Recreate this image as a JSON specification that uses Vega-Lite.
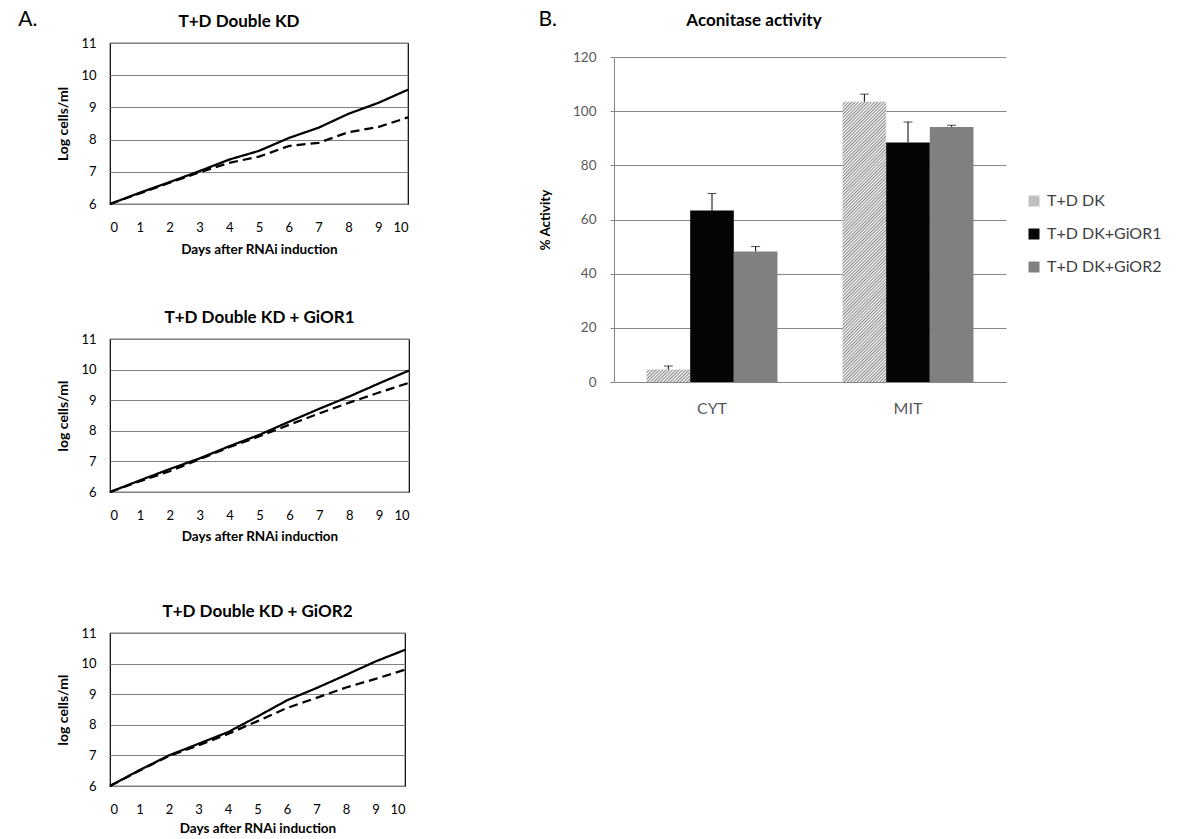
{
  "$schema": "https://vega.github.io/schema/vega-lite/v6.json",
  "background": "white",
  "padding": {"left": 18, "top": 9, "right": 5, "bottom": 5},
  "config": {
    "font": "Lato",
    "view": {"stroke": null},
    "title": {"font": "Lato", "fontSize": 17, "fontWeight": "bold", "color": "#000000", "offset": 6},
    "axis": {"labelFont": "Lato", "titleFont": "Lato"}
  },
  "datasets": {
    "kd": [
      {"day": 0, "series": "uninduced", "log_cells": 6.0}, {"day": 1, "series": "uninduced", "log_cells": 6.35},
      {"day": 2, "series": "uninduced", "log_cells": 6.68}, {"day": 3, "series": "uninduced", "log_cells": 7.02},
      {"day": 4, "series": "uninduced", "log_cells": 7.38}, {"day": 5, "series": "uninduced", "log_cells": 7.65},
      {"day": 6, "series": "uninduced", "log_cells": 8.05}, {"day": 7, "series": "uninduced", "log_cells": 8.37},
      {"day": 8, "series": "uninduced", "log_cells": 8.8}, {"day": 9, "series": "uninduced", "log_cells": 9.14},
      {"day": 10, "series": "uninduced", "log_cells": 9.55},
      {"day": 0, "series": "induced", "log_cells": 6.0}, {"day": 1, "series": "induced", "log_cells": 6.33},
      {"day": 2, "series": "induced", "log_cells": 6.66}, {"day": 3, "series": "induced", "log_cells": 6.98},
      {"day": 4, "series": "induced", "log_cells": 7.28}, {"day": 5, "series": "induced", "log_cells": 7.47},
      {"day": 6, "series": "induced", "log_cells": 7.8}, {"day": 7, "series": "induced", "log_cells": 7.9},
      {"day": 8, "series": "induced", "log_cells": 8.23}, {"day": 9, "series": "induced", "log_cells": 8.39},
      {"day": 10, "series": "induced", "log_cells": 8.69}
    ],
    "gior1": [
      {"day": 0, "series": "uninduced", "log_cells": 6.0}, {"day": 1, "series": "uninduced", "log_cells": 6.38},
      {"day": 2, "series": "uninduced", "log_cells": 6.75}, {"day": 3, "series": "uninduced", "log_cells": 7.1},
      {"day": 4, "series": "uninduced", "log_cells": 7.5}, {"day": 5, "series": "uninduced", "log_cells": 7.87},
      {"day": 6, "series": "uninduced", "log_cells": 8.3}, {"day": 7, "series": "uninduced", "log_cells": 8.72},
      {"day": 8, "series": "uninduced", "log_cells": 9.12}, {"day": 9, "series": "uninduced", "log_cells": 9.55},
      {"day": 10, "series": "uninduced", "log_cells": 9.97},
      {"day": 0, "series": "induced", "log_cells": 6.0}, {"day": 1, "series": "induced", "log_cells": 6.35},
      {"day": 2, "series": "induced", "log_cells": 6.68}, {"day": 3, "series": "induced", "log_cells": 7.07},
      {"day": 4, "series": "induced", "log_cells": 7.47}, {"day": 5, "series": "induced", "log_cells": 7.82},
      {"day": 6, "series": "induced", "log_cells": 8.2}, {"day": 7, "series": "induced", "log_cells": 8.57},
      {"day": 8, "series": "induced", "log_cells": 8.92}, {"day": 9, "series": "induced", "log_cells": 9.25},
      {"day": 10, "series": "induced", "log_cells": 9.57}
    ],
    "gior2": [
      {"day": 0, "series": "uninduced", "log_cells": 6.0}, {"day": 1, "series": "uninduced", "log_cells": 6.52},
      {"day": 2, "series": "uninduced", "log_cells": 7.0}, {"day": 3, "series": "uninduced", "log_cells": 7.38},
      {"day": 4, "series": "uninduced", "log_cells": 7.76}, {"day": 5, "series": "uninduced", "log_cells": 8.27},
      {"day": 6, "series": "uninduced", "log_cells": 8.8}, {"day": 7, "series": "uninduced", "log_cells": 9.2},
      {"day": 8, "series": "uninduced", "log_cells": 9.63}, {"day": 9, "series": "uninduced", "log_cells": 10.07},
      {"day": 10, "series": "uninduced", "log_cells": 10.45},
      {"day": 0, "series": "induced", "log_cells": 6.0}, {"day": 1, "series": "induced", "log_cells": 6.5},
      {"day": 2, "series": "induced", "log_cells": 6.98}, {"day": 3, "series": "induced", "log_cells": 7.33},
      {"day": 4, "series": "induced", "log_cells": 7.7}, {"day": 5, "series": "induced", "log_cells": 8.12},
      {"day": 6, "series": "induced", "log_cells": 8.55}, {"day": 7, "series": "induced", "log_cells": 8.88},
      {"day": 8, "series": "induced", "log_cells": 9.22}, {"day": 9, "series": "induced", "log_cells": 9.5},
      {"day": 10, "series": "induced", "log_cells": 9.8}
    ],
    "aco": [
      {"fraction": "CYT", "strain": "T+D DK", "activity": 4.6, "upper": 5.9},
      {"fraction": "CYT", "strain": "T+D DK+GiOR1", "activity": 63.3, "upper": 69.6},
      {"fraction": "CYT", "strain": "T+D DK+GiOR2", "activity": 48.2, "upper": 50.0},
      {"fraction": "MIT", "strain": "T+D DK", "activity": 103.5, "upper": 106.3},
      {"fraction": "MIT", "strain": "T+D DK+GiOR1", "activity": 88.4, "upper": 96.0},
      {"fraction": "MIT", "strain": "T+D DK+GiOR2", "activity": 94.2, "upper": 94.8}
    ]
  },
  "resolve": {"scale": {"fill": "independent"}, "legend": {"fill": "independent"}},
  "columns": 2,
  "align": "none",
  "spacing": 123,
  "concat": [
    {
      "title": {"text": "A.", "anchor": "start", "frame": "bounds", "fontSize": 21, "fontWeight": "normal", "dx": -38, "offset": -18},
      "spacing": 58,
      "vconcat": [
        {
          "spacing": 51,
          "vconcat": [
            {
              "width": 298, "height": 161,
              "view": {"stroke": "#000000", "strokeWidth": 1.2},
              "title": {"text": "T+D Double KD", "dx": -20},
              "data": {"name": "kd"},
              "mark": {"type": "line", "color": "#000000"},
              "encoding": {
                "x": {"field": "day", "type": "quantitative", "scale": {"domain": [0, 10], "nice": false},
                  "axis": {"title": "Days after RNAi induction", "values": [0,1,2,3,4,5,6,7,8,9,10], "grid": false, "ticks": false, "domain": false, "labelPadding": 17, "labelFontSize": 13, "labelColor": "#000000", "titleFontSize": 13.5, "titleFontWeight": "bold", "titlePadding": 8, "titleColor": "#000000"}},
                "y": {"field": "log_cells", "type": "quantitative", "scale": {"domain": [6, 11], "nice": false, "zero": false},
                  "axis": {"title": "Log cells/ml", "values": [6,7,8,9,10,11], "grid": true, "gridColor": "#808080", "gridWidth": 1, "ticks": false, "domain": false, "labelPadding": 14, "labelFontSize": 13, "labelColor": "#000000", "titleFontSize": 14, "titleFontWeight": "bold", "titlePadding": 10, "titleColor": "#000000"}},
                "strokeDash": {"field": "series", "type": "nominal", "scale": {"domain": ["uninduced", "induced"], "range": [[1, 0], [9, 5]]}, "legend": null},
                "strokeWidth": {"field": "series", "type": "nominal", "scale": {"domain": ["uninduced", "induced"], "range": [2.25, 2.25]}, "legend": null}
              }
            },
            {
              "width": 299, "height": 153,
              "view": {"stroke": "#000000", "strokeWidth": 1.2},
              "title": {"text": "T+D Double KD + GiOR1"},
              "data": {"name": "gior1"},
              "mark": {"type": "line", "color": "#000000"},
              "encoding": {
                "x": {"field": "day", "type": "quantitative", "scale": {"domain": [0, 10], "nice": false},
                  "axis": {"title": "Days after RNAi induction", "values": [0,1,2,3,4,5,6,7,8,9,10], "grid": false, "ticks": false, "domain": false, "labelPadding": 17, "labelFontSize": 13, "labelColor": "#000000", "titleFontSize": 13.5, "titleFontWeight": "bold", "titlePadding": 7, "titleColor": "#000000"}},
                "y": {"field": "log_cells", "type": "quantitative", "scale": {"domain": [6, 11], "nice": false, "zero": false},
                  "axis": {"title": "log cells/ml", "values": [6,7,8,9,10,11], "grid": true, "gridColor": "#808080", "gridWidth": 1, "ticks": false, "domain": false, "labelPadding": 14, "labelFontSize": 13, "labelColor": "#000000", "titleFontSize": 14, "titleFontWeight": "bold", "titlePadding": 10, "titleColor": "#000000"}},
                "strokeDash": {"field": "series", "type": "nominal", "scale": {"domain": ["uninduced", "induced"], "range": [[1, 0], [9, 5]]}, "legend": null},
                "strokeWidth": {"field": "series", "type": "nominal", "scale": {"domain": ["uninduced", "induced"], "range": [1.1, 2.25]}, "legend": null}
              }
            }
          ]
        },
        {
          "width": 295, "height": 153,
          "view": {"stroke": "#000000", "strokeWidth": 1.2},
          "title": {"text": "T+D Double KD + GiOR2"},
          "data": {"name": "gior2"},
          "mark": {"type": "line", "color": "#000000"},
          "encoding": {
            "x": {"field": "day", "type": "quantitative", "scale": {"domain": [0, 10], "nice": false},
              "axis": {"title": "Days after RNAi induction", "values": [0,1,2,3,4,5,6,7,8,9,10], "grid": false, "ticks": false, "domain": false, "labelPadding": 17, "labelFontSize": 13, "labelColor": "#000000", "titleFontSize": 13.5, "titleFontWeight": "bold", "titlePadding": 5, "titleColor": "#000000"}},
            "y": {"field": "log_cells", "type": "quantitative", "scale": {"domain": [6, 11], "nice": false, "zero": false},
              "axis": {"title": "log cells/ml", "values": [6,7,8,9,10,11], "grid": true, "gridColor": "#808080", "gridWidth": 1, "ticks": false, "domain": false, "labelPadding": 14, "labelFontSize": 13, "labelColor": "#000000", "titleFontSize": 14, "titleFontWeight": "bold", "titlePadding": 10, "titleColor": "#000000"}},
            "strokeDash": {"field": "series", "type": "nominal", "scale": {"domain": ["uninduced", "induced"], "range": [[1, 0], [9, 5]]}, "legend": null},
            "strokeWidth": {"field": "series", "type": "nominal", "scale": {"domain": ["uninduced", "induced"], "range": [2.25, 2.25]}, "legend": null}
          }
        }
      ]
    },
    {
      "title": {"text": "B.", "anchor": "start", "frame": "bounds", "fontSize": 21, "fontWeight": "normal", "offset": -18},
      "resolve": {"scale": {"fill": "independent"}, "legend": {"fill": "independent"}},
      "vconcat": [
        {
          "width": 392, "height": 339,
          "title": {"text": "Aconitase activity", "dx": -56, "fontSize": 17, "offset": 13},
          "data": {"name": "aco"},
          "encoding": {
            "x": {"field": "fraction", "type": "nominal", "scale": {"paddingInner": 0.332, "paddingOuter": 0.166},
              "axis": {"title": null, "labelAngle": 0, "ticks": false, "domainColor": "#868686", "labelFontSize": 16, "labelColor": "#595959", "labelPadding": 18}},
            "xOffset": {"field": "strain", "type": "nominal", "scale": {"domain": ["T+D DK", "T+D DK+GiOR1", "T+D DK+GiOR2"], "paddingInner": 0, "paddingOuter": 0}}
          },
          "layer": [
            {
              "mark": {"type": "bar"},
              "encoding": {
                "y": {"field": "activity", "type": "quantitative", "scale": {"domain": [0, 120], "nice": false, "range": [339, 14]},
                  "axis": {"title": "% Activity", "values": [0,20,40,60,80,100,120], "grid": true, "gridColor": "#868686", "domainColor": "#868686", "tickColor": "#868686", "tickSize": 4, "labelPadding": 14, "labelFontSize": 13.5, "labelColor": "#595959", "titleFontSize": 13.5, "titleFontWeight": "bold", "titleColor": "#000000", "titlePadding": 20}},
                "fill": {
                  "condition": [
                    {"test": "datum.strain === 'T+D DK' && datum.fraction === 'MIT'",
                     "value": {"gradient": "linear", "x1": 0, "y1": 0, "x2": 0.1755, "y2": 1.1283, "stops": [
{"offset":0,"color":"#8c8c8c"},{"offset":0.005,"color":"#ffffff"},{"offset":0.01,"color":"#8c8c8c"},{"offset":0.015,"color":"#ffffff"},{"offset":0.02,"color":"#8c8c8c"},{"offset":0.025,"color":"#ffffff"},{"offset":0.03,"color":"#8c8c8c"},{"offset":0.035,"color":"#ffffff"},{"offset":0.04,"color":"#8c8c8c"},{"offset":0.045,"color":"#ffffff"},
{"offset":0.05,"color":"#8c8c8c"},{"offset":0.055,"color":"#ffffff"},{"offset":0.06,"color":"#8c8c8c"},{"offset":0.065,"color":"#ffffff"},{"offset":0.07,"color":"#8c8c8c"},{"offset":0.075,"color":"#ffffff"},{"offset":0.08,"color":"#8c8c8c"},{"offset":0.085,"color":"#ffffff"},{"offset":0.09,"color":"#8c8c8c"},{"offset":0.095,"color":"#ffffff"},
{"offset":0.10,"color":"#8c8c8c"},{"offset":0.105,"color":"#ffffff"},{"offset":0.11,"color":"#8c8c8c"},{"offset":0.115,"color":"#ffffff"},{"offset":0.12,"color":"#8c8c8c"},{"offset":0.125,"color":"#ffffff"},{"offset":0.13,"color":"#8c8c8c"},{"offset":0.135,"color":"#ffffff"},{"offset":0.14,"color":"#8c8c8c"},{"offset":0.145,"color":"#ffffff"},
{"offset":0.15,"color":"#8c8c8c"},{"offset":0.155,"color":"#ffffff"},{"offset":0.16,"color":"#8c8c8c"},{"offset":0.165,"color":"#ffffff"},{"offset":0.17,"color":"#8c8c8c"},{"offset":0.175,"color":"#ffffff"},{"offset":0.18,"color":"#8c8c8c"},{"offset":0.185,"color":"#ffffff"},{"offset":0.19,"color":"#8c8c8c"},{"offset":0.195,"color":"#ffffff"},
{"offset":0.20,"color":"#8c8c8c"},{"offset":0.205,"color":"#ffffff"},{"offset":0.21,"color":"#8c8c8c"},{"offset":0.215,"color":"#ffffff"},{"offset":0.22,"color":"#8c8c8c"},{"offset":0.225,"color":"#ffffff"},{"offset":0.23,"color":"#8c8c8c"},{"offset":0.235,"color":"#ffffff"},{"offset":0.24,"color":"#8c8c8c"},{"offset":0.245,"color":"#ffffff"},
{"offset":0.25,"color":"#8c8c8c"},{"offset":0.255,"color":"#ffffff"},{"offset":0.26,"color":"#8c8c8c"},{"offset":0.265,"color":"#ffffff"},{"offset":0.27,"color":"#8c8c8c"},{"offset":0.275,"color":"#ffffff"},{"offset":0.28,"color":"#8c8c8c"},{"offset":0.285,"color":"#ffffff"},{"offset":0.29,"color":"#8c8c8c"},{"offset":0.295,"color":"#ffffff"},
{"offset":0.30,"color":"#8c8c8c"},{"offset":0.305,"color":"#ffffff"},{"offset":0.31,"color":"#8c8c8c"},{"offset":0.315,"color":"#ffffff"},{"offset":0.32,"color":"#8c8c8c"},{"offset":0.325,"color":"#ffffff"},{"offset":0.33,"color":"#8c8c8c"},{"offset":0.335,"color":"#ffffff"},{"offset":0.34,"color":"#8c8c8c"},{"offset":0.345,"color":"#ffffff"},
{"offset":0.35,"color":"#8c8c8c"},{"offset":0.355,"color":"#ffffff"},{"offset":0.36,"color":"#8c8c8c"},{"offset":0.365,"color":"#ffffff"},{"offset":0.37,"color":"#8c8c8c"},{"offset":0.375,"color":"#ffffff"},{"offset":0.38,"color":"#8c8c8c"},{"offset":0.385,"color":"#ffffff"},{"offset":0.39,"color":"#8c8c8c"},{"offset":0.395,"color":"#ffffff"},
{"offset":0.40,"color":"#8c8c8c"},{"offset":0.405,"color":"#ffffff"},{"offset":0.41,"color":"#8c8c8c"},{"offset":0.415,"color":"#ffffff"},{"offset":0.42,"color":"#8c8c8c"},{"offset":0.425,"color":"#ffffff"},{"offset":0.43,"color":"#8c8c8c"},{"offset":0.435,"color":"#ffffff"},{"offset":0.44,"color":"#8c8c8c"},{"offset":0.445,"color":"#ffffff"},
{"offset":0.45,"color":"#8c8c8c"},{"offset":0.455,"color":"#ffffff"},{"offset":0.46,"color":"#8c8c8c"},{"offset":0.465,"color":"#ffffff"},{"offset":0.47,"color":"#8c8c8c"},{"offset":0.475,"color":"#ffffff"},{"offset":0.48,"color":"#8c8c8c"},{"offset":0.485,"color":"#ffffff"},{"offset":0.49,"color":"#8c8c8c"},{"offset":0.495,"color":"#ffffff"},
{"offset":0.50,"color":"#8c8c8c"},{"offset":0.505,"color":"#ffffff"},{"offset":0.51,"color":"#8c8c8c"},{"offset":0.515,"color":"#ffffff"},{"offset":0.52,"color":"#8c8c8c"},{"offset":0.525,"color":"#ffffff"},{"offset":0.53,"color":"#8c8c8c"},{"offset":0.535,"color":"#ffffff"},{"offset":0.54,"color":"#8c8c8c"},{"offset":0.545,"color":"#ffffff"},
{"offset":0.55,"color":"#8c8c8c"},{"offset":0.555,"color":"#ffffff"},{"offset":0.56,"color":"#8c8c8c"},{"offset":0.565,"color":"#ffffff"},{"offset":0.57,"color":"#8c8c8c"},{"offset":0.575,"color":"#ffffff"},{"offset":0.58,"color":"#8c8c8c"},{"offset":0.585,"color":"#ffffff"},{"offset":0.59,"color":"#8c8c8c"},{"offset":0.595,"color":"#ffffff"},
{"offset":0.60,"color":"#8c8c8c"},{"offset":0.605,"color":"#ffffff"},{"offset":0.61,"color":"#8c8c8c"},{"offset":0.615,"color":"#ffffff"},{"offset":0.62,"color":"#8c8c8c"},{"offset":0.625,"color":"#ffffff"},{"offset":0.63,"color":"#8c8c8c"},{"offset":0.635,"color":"#ffffff"},{"offset":0.64,"color":"#8c8c8c"},{"offset":0.645,"color":"#ffffff"},
{"offset":0.65,"color":"#8c8c8c"},{"offset":0.655,"color":"#ffffff"},{"offset":0.66,"color":"#8c8c8c"},{"offset":0.665,"color":"#ffffff"},{"offset":0.67,"color":"#8c8c8c"},{"offset":0.675,"color":"#ffffff"},{"offset":0.68,"color":"#8c8c8c"},{"offset":0.685,"color":"#ffffff"},{"offset":0.69,"color":"#8c8c8c"},{"offset":0.695,"color":"#ffffff"},
{"offset":0.70,"color":"#8c8c8c"},{"offset":0.705,"color":"#ffffff"},{"offset":0.71,"color":"#8c8c8c"},{"offset":0.715,"color":"#ffffff"},{"offset":0.72,"color":"#8c8c8c"},{"offset":0.725,"color":"#ffffff"},{"offset":0.73,"color":"#8c8c8c"},{"offset":0.735,"color":"#ffffff"},{"offset":0.74,"color":"#8c8c8c"},{"offset":0.745,"color":"#ffffff"},
{"offset":0.75,"color":"#8c8c8c"},{"offset":0.755,"color":"#ffffff"},{"offset":0.76,"color":"#8c8c8c"},{"offset":0.765,"color":"#ffffff"},{"offset":0.77,"color":"#8c8c8c"},{"offset":0.775,"color":"#ffffff"},{"offset":0.78,"color":"#8c8c8c"},{"offset":0.785,"color":"#ffffff"},{"offset":0.79,"color":"#8c8c8c"},{"offset":0.795,"color":"#ffffff"},
{"offset":0.80,"color":"#8c8c8c"},{"offset":0.805,"color":"#ffffff"},{"offset":0.81,"color":"#8c8c8c"},{"offset":0.815,"color":"#ffffff"},{"offset":0.82,"color":"#8c8c8c"},{"offset":0.825,"color":"#ffffff"},{"offset":0.83,"color":"#8c8c8c"},{"offset":0.835,"color":"#ffffff"},{"offset":0.84,"color":"#8c8c8c"},{"offset":0.845,"color":"#ffffff"},
{"offset":0.85,"color":"#8c8c8c"},{"offset":0.855,"color":"#ffffff"},{"offset":0.86,"color":"#8c8c8c"},{"offset":0.865,"color":"#ffffff"},{"offset":0.87,"color":"#8c8c8c"},{"offset":0.875,"color":"#ffffff"},{"offset":0.88,"color":"#8c8c8c"},{"offset":0.885,"color":"#ffffff"},{"offset":0.89,"color":"#8c8c8c"},{"offset":0.895,"color":"#ffffff"},
{"offset":0.90,"color":"#8c8c8c"},{"offset":0.905,"color":"#ffffff"},{"offset":0.91,"color":"#8c8c8c"},{"offset":0.915,"color":"#ffffff"},{"offset":0.92,"color":"#8c8c8c"},{"offset":0.925,"color":"#ffffff"},{"offset":0.93,"color":"#8c8c8c"},{"offset":0.935,"color":"#ffffff"},{"offset":0.94,"color":"#8c8c8c"},{"offset":0.945,"color":"#ffffff"},
{"offset":0.95,"color":"#8c8c8c"},{"offset":0.955,"color":"#ffffff"},{"offset":0.96,"color":"#8c8c8c"},{"offset":0.965,"color":"#ffffff"},{"offset":0.97,"color":"#8c8c8c"},{"offset":0.975,"color":"#ffffff"},{"offset":0.98,"color":"#8c8c8c"},{"offset":0.985,"color":"#ffffff"},{"offset":0.99,"color":"#8c8c8c"},{"offset":0.995,"color":"#ffffff"},
{"offset":1,"color":"#8c8c8c"}
                     ]}},
                    {"test": "datum.strain === 'T+D DK' && datum.fraction === 'CYT'",
                     "value": {"gradient": "linear", "x1": 0, "y1": 0, "x2": 1.189, "y2": 0.341, "stops": [
{"offset":0,"color":"#8c8c8c"},{"offset":0.0294,"color":"#ffffff"},{"offset":0.0588,"color":"#8c8c8c"},{"offset":0.0882,"color":"#ffffff"},{"offset":0.1176,"color":"#8c8c8c"},{"offset":0.1471,"color":"#ffffff"},{"offset":0.1765,"color":"#8c8c8c"},{"offset":0.2059,"color":"#ffffff"},{"offset":0.2353,"color":"#8c8c8c"},{"offset":0.2647,"color":"#ffffff"},
{"offset":0.2941,"color":"#8c8c8c"},{"offset":0.3235,"color":"#ffffff"},{"offset":0.3529,"color":"#8c8c8c"},{"offset":0.3824,"color":"#ffffff"},{"offset":0.4118,"color":"#8c8c8c"},{"offset":0.4412,"color":"#ffffff"},{"offset":0.4706,"color":"#8c8c8c"},{"offset":0.5,"color":"#ffffff"},{"offset":0.5294,"color":"#8c8c8c"},{"offset":0.5588,"color":"#ffffff"},
{"offset":0.5882,"color":"#8c8c8c"},{"offset":0.6176,"color":"#ffffff"},{"offset":0.6471,"color":"#8c8c8c"},{"offset":0.6765,"color":"#ffffff"},{"offset":0.7059,"color":"#8c8c8c"},{"offset":0.7353,"color":"#ffffff"},{"offset":0.7647,"color":"#8c8c8c"},{"offset":0.7941,"color":"#ffffff"},{"offset":0.8235,"color":"#8c8c8c"},{"offset":0.8529,"color":"#ffffff"},
{"offset":0.8824,"color":"#8c8c8c"},{"offset":0.9118,"color":"#ffffff"},{"offset":0.9412,"color":"#8c8c8c"},{"offset":0.9706,"color":"#ffffff"},{"offset":1,"color":"#8c8c8c"}
                     ]}}
                  ],
                  "field": "strain", "type": "nominal",
                  "scale": {"domain": ["T+D DK", "T+D DK+GiOR1", "T+D DK+GiOR2"], "range": ["#c0c0c0", "#050505", "#808080"]},
                  "legend": {"title": null, "orient": "none", "legendX": 412, "legendY": 150, "symbolType": "square", "symbolSize": 121, "symbolStrokeWidth": 0, "labelFontSize": 16, "labelColor": "#404040", "labelLimit": 400, "rowPadding": 17, "labelOffset": 5, "padding": 0}
                }
              }
            },
            {
              "mark": {"type": "rule", "color": "#000000", "strokeWidth": 1},
              "encoding": {
                "y": {"field": "activity", "type": "quantitative"},
                "y2": {"field": "upper"}
              }
            },
            {
              "mark": {"type": "tick", "color": "#000000", "thickness": 1, "size": 9},
              "encoding": {
                "y": {"field": "upper", "type": "quantitative"}
              }
            }
          ]
        }
      ]
    }
  ]
}
